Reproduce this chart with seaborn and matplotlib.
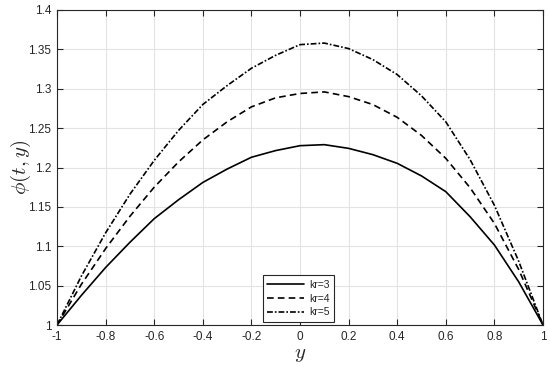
import numpy as np
import pandas as pd
import matplotlib
matplotlib.use("Agg")
import matplotlib.pyplot as plt
import seaborn as sns
from matplotlib.ticker import FuncFormatter

# Data
y_pos = [-1.0, -0.9, -0.8, -0.7, -0.6, -0.5, -0.4, -0.3, -0.2, -0.1, 0.0,
         0.1, 0.2, 0.3, 0.4, 0.5, 0.6, 0.7, 0.8, 0.9, 1.0]
phi_kr3 = [1.000, 1.0375, 1.073, 1.105, 1.135, 1.159, 1.181, 1.198, 1.213, 1.2215, 1.2277,
           1.229, 1.2243, 1.2163, 1.2053, 1.1893, 1.1693, 1.1375, 1.1016, 1.0548, 1.000]
phi_kr4 = [1.000, 1.0515, 1.097, 1.138, 1.175, 1.207, 1.235, 1.258, 1.277, 1.2885, 1.294,
           1.296, 1.290, 1.2799, 1.2637, 1.2407, 1.2116, 1.1743, 1.129, 1.0705, 1.000]
phi_kr5 = [1.000, 1.062, 1.117, 1.166, 1.209, 1.247, 1.280, 1.304, 1.326, 1.3425, 1.356,
           1.358, 1.351, 1.337, 1.318, 1.291, 1.258, 1.210, 1.152, 1.081, 1.000]
labels = ["kr=3", "kr=4", "kr=5"]
x_ticks = [-1, -0.8, -0.6, -0.4, -0.2, 0, 0.2, 0.4, 0.6, 0.8, 1]
y_ticks = [1, 1.05, 1.1, 1.15, 1.2, 1.25, 1.3, 1.35, 1.4]

df = pd.DataFrame({
    "y": y_pos * 3,
    "phi": phi_kr3 + phi_kr4 + phi_kr5,
    "kr": [labels[0]] * len(y_pos) + [labels[1]] * len(y_pos) + [labels[2]] * len(y_pos),
})

sns.set_style("white")
plt.rcParams["font.family"] = ["Liberation Sans", "DejaVu Sans"]
plt.rcParams["mathtext.fontset"] = "cm"
plt.rcParams["axes.unicode_minus"] = False

fig = plt.figure(figsize=(5.5, 3.71), dpi=100)
ax = fig.add_axes([57 / 550, 1 - 325 / 371, 486 / 550, 315 / 371])

dark = "#262626"
sns.lineplot(data=df, x="y", y="phi", hue="kr", style="kr",
             palette={l: "black" for l in labels},
             dashes={"kr=3": "", "kr=4": (4, 2.5), "kr=5": (3.5, 1.2, 1, 1.2)},
             linewidth=1.2, ax=ax, legend=True)

ax.set_xlim(-1, 1)
ax.set_ylim(1, 1.4)
ax.set_xticks(x_ticks)
ax.set_yticks(y_ticks)
fmt = FuncFormatter(lambda v, p: ("%g" % v))
ax.xaxis.set_major_formatter(fmt)
ax.yaxis.set_major_formatter(fmt)
ax.grid(True, color="#e3e3e3", linewidth=0.8)
ax.set_axisbelow(True)
ax.tick_params(axis="both", direction="in", length=4, width=0.8, colors=dark,
               labelsize=8.5, top=True, right=True, bottom=True, left=True,
               labelcolor=dark, pad=4)
for s in ax.spines.values():
    s.set_color(dark)
    s.set_linewidth(0.8)
    s.set_visible(True)

ax.set_xlabel("$y$", fontsize=15, color=dark, labelpad=2)
ax.set_ylabel(r"$\phi(t,y)$", fontsize=15, color=dark)
ax.yaxis.set_label_coords(-0.05, 0.5)

leg = ax.legend(loc="lower center", bbox_to_anchor=(0.497, 0.01), fontsize=7.5,
                handlelength=3.5, labelspacing=0.35, borderpad=0.45,
                handletextpad=0.5, frameon=True, fancybox=False, framealpha=1,
                borderaxespad=0)
leg.get_frame().set_edgecolor(dark)
leg.get_frame().set_linewidth(0.8)

fig.savefig("out.png", dpi=100)
